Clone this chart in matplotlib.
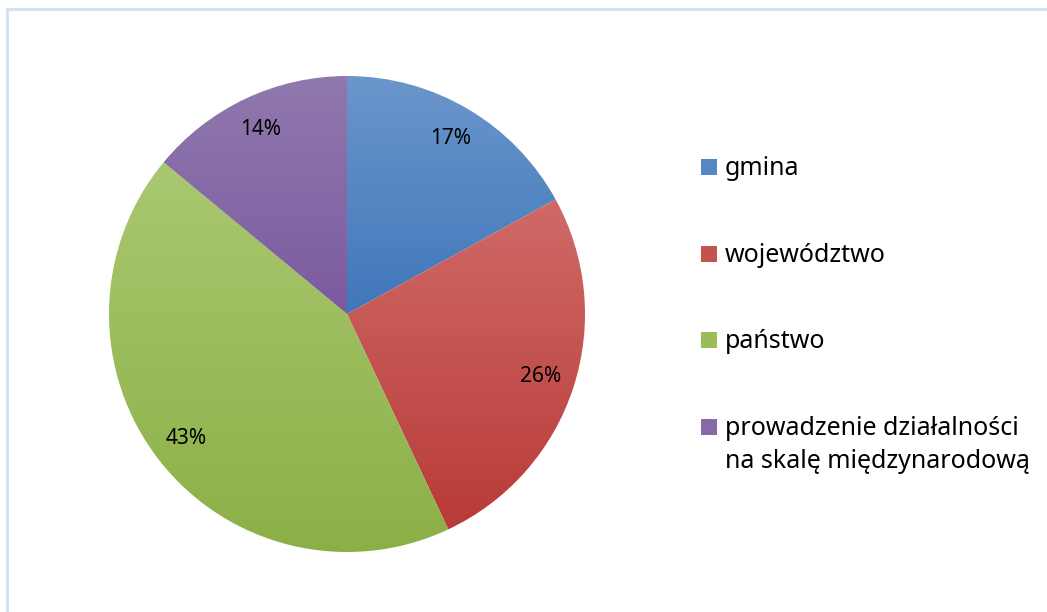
import numpy as np
import matplotlib.pyplot as plt
from matplotlib.patches import Rectangle
from matplotlib.colors import to_rgb

labels = ["gmina", "województwo", "państwo",
          "prowadzenie działalności\nna skalę międzynarodową"]
values = [17, 26, 43, 14]
top_colors = ["#6B96CB", "#D06A67", "#AAC870", "#9079AE"]
bottom_colors = ["#3F77BA", "#B83B38", "#8BAF46", "#7B5A9F"]

plt.rcParams['font.family'] = ['Noto Sans', 'DejaVu Sans']

W, H = 1047, 612
fig = plt.figure(figsize=(W / 100, H / 100), dpi=100)

# ramka obszaru wykresu (jasnoniebieska, ucięta z prawej i od dołu)
fig.add_artist(Rectangle((7 / W, -0.05), 1.2, (H - 8.5) / H + 0.05,
                         transform=fig.transFigure, fill=False,
                         edgecolor="#D5E2F2", linewidth=2.2, clip_on=False))

cx, cy, r = 347, 314, 238
ax = fig.add_axes([(cx - r) / W, (H - cy - r) / H, 2 * r / W, 2 * r / H])

wedges, texts, autotexts = ax.pie(
    values, startangle=90, counterclock=False, radius=1.0,
    autopct="%1.0f%%", pctdistance=0.855,
    wedgeprops=dict(linewidth=0),
    textprops=dict(fontsize=15, color="black"))
ax.set_aspect("equal")
ax.axis("off")

# gradient pionowy w każdym wycinku
for w, c_top, c_bot in zip(wedges, top_colors, bottom_colors):
    w.set_facecolor("none")
    verts = w.get_path().vertices
    x0, x1 = verts[:, 0].min(), verts[:, 0].max()
    y0, y1 = verts[:, 1].min(), verts[:, 1].max()
    t = np.linspace(0, 1, 256)[:, None]
    grad = (1 - t) * np.array(to_rgb(c_top)) + t * np.array(to_rgb(c_bot))
    img = np.repeat(grad[:, None, :], 2, axis=1)
    im = ax.imshow(img, extent=(x0, x1, y0, y1), origin="upper",
                   aspect="auto", zorder=1, interpolation="bilinear")
    im.set_clip_path(w)
for t in autotexts:
    t.set_zorder(3)
ax.set_xlim(-1, 1)
ax.set_ylim(-1, 1)

# legenda (znacznik przy pierwszej linii, jak w Excelu)
baselines = [175, 262, 348, 435]
line_gap = 33
for lab, c_top, c_bot, yb in zip(labels, top_colors, bottom_colors, baselines):
    mid = 0.5 * (np.array(to_rgb(c_top)) + np.array(to_rgb(c_bot)))
    fig.add_artist(Rectangle((701 / W, (H - yb) / H), 16 / W, 16 / H,
                             transform=fig.transFigure,
                             facecolor=mid, edgecolor="none"))
    for i, line in enumerate(lab.split("\n")):
        fig.text(725 / W, (H - yb - i * line_gap) / H, line, fontsize=18,
                 va="baseline", ha="left", transform=fig.transFigure)

fig.savefig("out.png", dpi=100)
